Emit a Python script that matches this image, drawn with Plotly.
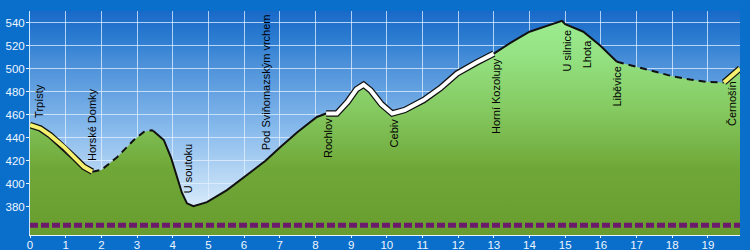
import numpy as np
import plotly.graph_objects as go

# ---- data -------------------------------------------------------------
km = [0.0, 0.29, 0.57, 0.95, 1.27, 1.51, 1.75, 2.0, 2.44, 2.91, 3.19, 3.4, 3.45,
      3.75, 3.95, 4.12, 4.26, 4.4, 4.58, 4.96, 5.52, 6.18, 6.6, 7.02, 7.5, 8.04,
      8.3, 8.6, 8.9, 9.15, 9.35, 9.55, 9.85, 10.15, 10.5, 11.03, 11.5, 11.97,
      12.5, 13.0, 13.5, 14.0, 14.5, 14.91, 15.0, 15.51, 15.98, 16.45, 16.99,
      17.5, 18.0, 18.5, 18.97, 19.45, 19.9]
elev = [451, 448, 442, 432, 422, 414.7, 410.5, 412, 423, 438, 445, 446.5, 446,
        438, 423, 406, 392, 383, 380.5, 384, 394.5, 410, 420, 432, 445, 458,
        461, 461, 471, 482, 486, 481, 469, 461, 464, 472.6, 483, 495.7,
        505, 513, 523, 532, 537, 541.4, 538.5, 532, 520, 506, 501.5,
        497, 493.4, 490.5, 488.5, 488, 500]

segment_breaks = [0.0, 1.75, 3.45, 8.3, 13.0, 16.45, 19.45, 19.9]
segment_styles = ["yellow", "dash", "solid", "white", "solid", "dash", "yellow"]

place_names = ["Trpísty", "Horské Domky", "U soutoku", "Pod Sviňomazským vrchem",
               "Rochlov", "Cebiv", "Horní Kozolupy", "U silnice", "Lhota",
               "Liběvice", "Černošín"]
place_km = [0.25, 1.74, 4.42, 6.62, 8.34, 10.2, 13.04, 15.04, 15.62, 16.45, 19.67]
place_side = ["above", "above", "above", "above", "below", "below", "below",
              "below", "below", "below", "below"]

base_level = 364
x_ticks = list(range(0, 20))
y_ticks = list(range(380, 541, 20))
x_range = [0, 19.9]
y_range = [355.5, 550]

# ---- figure -----------------------------------------------------------
FONT = "Liberation Sans, Arial, sans-serif"
fig = go.Figure()

# sky gradient (subplot 1)
fig.add_trace(go.Scatter(
    x=x_range, y=[y_range[1], y_range[1]], mode="lines", fill="tozeroy",
    line=dict(width=0), hoverinfo="skip", showlegend=False,
    fillgradient=dict(type="vertical", start=y_range[0], stop=y_range[1],
                      colorscale=[[0, "#e4f0fc"], [0.15, "#d2e7f9"],
                                  [0.48, "#86b9ec"], [0.78, "#488ed8"],
                                  [0.87, "#2d7dd2"], [1, "#1969c8"]]),
    xaxis="x", yaxis="y"))

# terrain fill (subplot 2)
fig.add_trace(go.Scatter(
    x=km, y=elev, mode="lines", fill="tozeroy", line=dict(width=0),
    hoverinfo="skip", showlegend=False,
    fillgradient=dict(type="vertical", start=y_range[0], stop=y_range[1],
                      colorscale=[[0, "#689c30"], [0.3, "#70a838"],
                                  [0.55, "#84c860"], [0.8, "#94e282"],
                                  [1, "#9eee94"]]),
    xaxis="x2", yaxis="y2"))

# base dotted line
fig.add_trace(go.Scatter(
    x=x_range, y=[base_level, base_level], mode="lines",
    line=dict(color="#6c1a6c", width=5, dash="8px,3px"),
    hoverinfo="skip", showlegend=False, xaxis="x2", yaxis="y2"))

km_arr = np.array(km)
elev_arr = np.array(elev)
for i, style in enumerate(segment_styles):
    a, b = segment_breaks[i], segment_breaks[i + 1]
    m = (km_arr >= a - 1e-9) & (km_arr <= b + 1e-9)
    xs, ys = km_arr[m], elev_arr[m]
    if style in ("yellow", "white"):
        fill_col = "#f4f070" if style == "yellow" else "#ffffff"
        fig.add_trace(go.Scatter(x=xs, y=ys, mode="lines",
                                 line=dict(color="#111111", width=6.5),
                                 hoverinfo="skip", showlegend=False,
                                 xaxis="x2", yaxis="y2"))
        fig.add_trace(go.Scatter(x=xs, y=ys, mode="lines",
                                 line=dict(color=fill_col, width=4),
                                 hoverinfo="skip", showlegend=False,
                                 xaxis="x2", yaxis="y2"))
    else:
        fig.add_trace(go.Scatter(x=xs, y=ys, mode="lines",
                                 line=dict(color="#111111", width=2,
                                           dash="7px,5px" if style == "dash" else "solid"),
                                 hoverinfo="skip", showlegend=False,
                                 xaxis="x2", yaxis="y2"))

annotations = []
for name, k, side in zip(place_names, place_km, place_side):
    yv = float(np.interp(k, km, elev))
    annotations.append(dict(
        x=k, y=yv, xref="x2", yref="y2", text=name, showarrow=False,
        textangle=-90, xanchor="center",
        yanchor="bottom" if side == "above" else "top",
        yshift=8 if side == "above" else -3,
        font=dict(family=FONT, size=11, color="#000000")))

fig.update_layout(
    width=750, height=250,
    margin=dict(l=30, r=10, t=11, b=15, autoexpand=False),
    paper_bgcolor="#0a6ecb",
    plot_bgcolor="rgba(0,0,0,0)",
    showlegend=False,
    annotations=annotations,
    xaxis=dict(range=x_range, visible=False, domain=[0, 1]),
    yaxis=dict(range=y_range, visible=False, domain=[0, 1]),
    xaxis2=dict(range=x_range, anchor="y2", domain=[0, 1], automargin=False,
                tickvals=x_ticks, showgrid=True,
                gridcolor="rgba(225,240,255,0.75)", gridwidth=1,
                showline=True, linecolor="#e8f4ff", linewidth=1,
                ticks="outside", ticklen=2, tickcolor="#e8f4ff",
                ticklabelstandoff=-3,
                tickfont=dict(family=FONT, size=11.5, color="#eef6ff"),
                zeroline=False),
    yaxis2=dict(range=y_range, anchor="x2", domain=[0, 1], automargin=False,
                tickvals=y_ticks, showgrid=True,
                gridcolor="rgba(225,240,255,0.75)", gridwidth=1,
                showline=True, linecolor="#cfe6ff", linewidth=1,
                ticks="outside", ticklen=3, tickcolor="#e8f4ff",
                ticklabelstandoff=-1,
                tickfont=dict(family=FONT, size=11.5, color="#eef6ff"),
                zeroline=False),
)

fig.write_html("out.html")
